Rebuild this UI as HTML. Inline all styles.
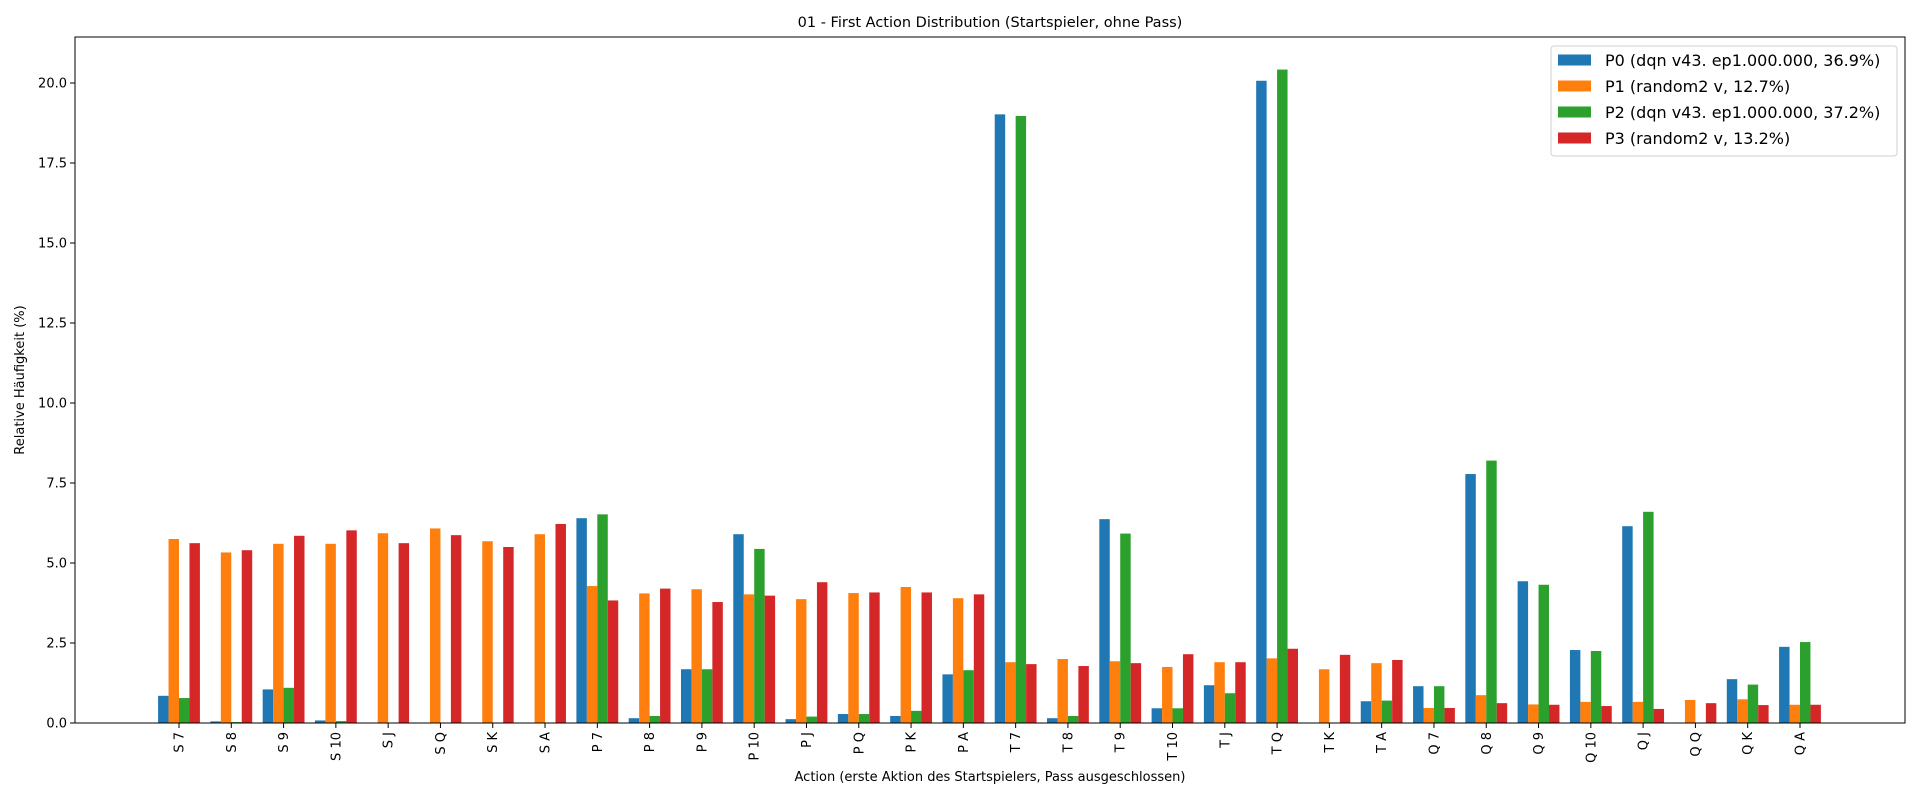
<!DOCTYPE html>
<html><head><meta charset="utf-8"><style>
html,body{margin:0;padding:0;background:#fff;}
svg{display:block;font-family:"DejaVu Sans","Liberation Sans",sans-serif;}
</style></head><body>
<svg id="chart" width="1920" height="800" viewBox="0 0 1920 800" xmlns="http://www.w3.org/2000/svg">
<rect width="1920" height="800" fill="#fff"/>
<text x="990" y="27" text-anchor="middle" font-size="14.5" fill="#000">01 - First Action Distribution (Startspieler, ohne Pass)</text>
<text transform="translate(24,380) rotate(-90)" text-anchor="middle" font-size="13">Relative Häufigkeit (%)</text>
<text x="990" y="781" text-anchor="middle" font-size="13">Action (erste Aktion des Startspielers, Pass ausgeschlossen)</text>
<g id="bars"></g>
<g id="axes"></g>
<g id="legend"></g>
</svg>
<script>
const categories = ["S 7","S 8","S 9","S 10","S J","S Q","S K","S A","P 7","P 8","P 9","P 10","P J","P Q","P K","P A","T 7","T 8","T 9","T 10","T J","T Q","T K","T A","Q 7","Q 8","Q 9","Q 10","Q J","Q Q","Q K","Q A"];
const p0 = [0.85,0.05,1.05,0.08,0,0,0,0,6.4,0.15,1.68,5.9,0.12,0.28,0.22,1.52,19.02,0.15,6.37,0.46,1.18,20.07,0,0.68,1.15,7.78,4.43,2.28,6.15,0,1.37,2.38];
const p1 = [5.75,5.33,5.6,5.6,5.93,6.08,5.68,5.9,4.28,4.05,4.18,4.02,3.87,4.06,4.25,3.9,1.9,2.0,1.93,1.75,1.9,2.02,1.68,1.87,0.47,0.87,0.58,0.66,0.66,0.72,0.74,0.57];
const p2 = [0.78,0.03,1.1,0.06,0,0,0,0,6.52,0.22,1.68,5.44,0.2,0.28,0.38,1.65,18.97,0.22,5.92,0.46,0.93,20.42,0,0.7,1.15,8.2,4.32,2.25,6.6,0,1.2,2.53];
const p3 = [5.62,5.4,5.85,6.02,5.62,5.87,5.5,6.22,3.83,4.2,3.78,3.98,4.4,4.08,4.08,4.02,1.84,1.78,1.87,2.15,1.9,2.32,2.13,1.97,0.47,0.62,0.57,0.53,0.44,0.62,0.56,0.57];
const seriesLabels = ["P0 (dqn v43. ep1.000.000, 36.9%)","P1 (random2 v, 12.7%)","P2 (dqn v43. ep1.000.000, 37.2%)","P3 (random2 v, 13.2%)"];
const yTicks = [0,2.5,5,7.5,10,12.5,15,17.5,20];
const yTickLabels = ["0.0","2.5","5.0","7.5","10.0","12.5","15.0","17.5","20.0"];

const NS="http://www.w3.org/2000/svg";
const colors=["#1f77b4","#ff7f0e","#2ca02c","#d62728"];
const AX={l:75,r:1905,t:37,b:723};
const X0=179, DX=52.29, Y0=723, DY=32.0;
function xs(v){return X0+v*DX;}
function ys(v){return Y0-v*DY;}
function mk(tag,attrs,parent){const e=document.createElementNS(NS,tag);for(const k in attrs)e.setAttribute(k,attrs[k]);parent.appendChild(e);return e;}

const bars=document.getElementById('bars');
[p0,p1,p2,p3].forEach((s,k)=>{
  s.forEach((v,i)=>{
    const x0=xs(i-0.4+k*0.2), x1=xs(i-0.2+k*0.2);
    const r=mk('rect',{x:x0,y:ys(v),width:x1-x0,height:ys(0)-ys(v),fill:colors[k]},bars);
    
    
  });
});

const axes=document.getElementById('axes');
const frame=mk('rect',{x:AX.l,y:AX.t,width:AX.r-AX.l,height:AX.b-AX.t,fill:'none',stroke:'#000','stroke-width':1},axes);


yTicks.forEach((v,i)=>{
  const y=ys(v);
  const t=mk('line',{x1:AX.l-5,x2:AX.l,y1:y,y2:y,stroke:'#000'},axes);
  
  
  const tx=mk('text',{x:AX.l-8,y:y+4.5,'text-anchor':'end','font-size':13},axes);
  tx.textContent=yTickLabels[i];
  
  
});
categories.forEach((c,i)=>{
  const x=xs(i);
  const t=mk('line',{x1:x,x2:x,y1:AX.b,y2:AX.b+5,stroke:'#000'},axes);
  
  
  const tx=mk('text',{transform:'translate('+(x+4.5)+','+(AX.b+9)+') rotate(-90)','text-anchor':'end','font-size':13},axes);
  tx.textContent=c;
  
  
});

const lg=document.getElementById('legend');
const box=mk('rect',{x:1551,y:46,width:346,height:110,rx:3,fill:'#fff','fill-opacity':0.8,stroke:'#d0d0d0'},lg);


seriesLabels.forEach((s,k)=>{
  const cy=60+k*26;
  const p=mk('rect',{x:1558,y:cy-5.5,width:33,height:11,fill:colors[k]},lg);
  
  
  const t=mk('text',{x:1605,y:cy+6,'font-size':16},lg);
  t.textContent=s;
  
  
});
</script>
</body></html>
